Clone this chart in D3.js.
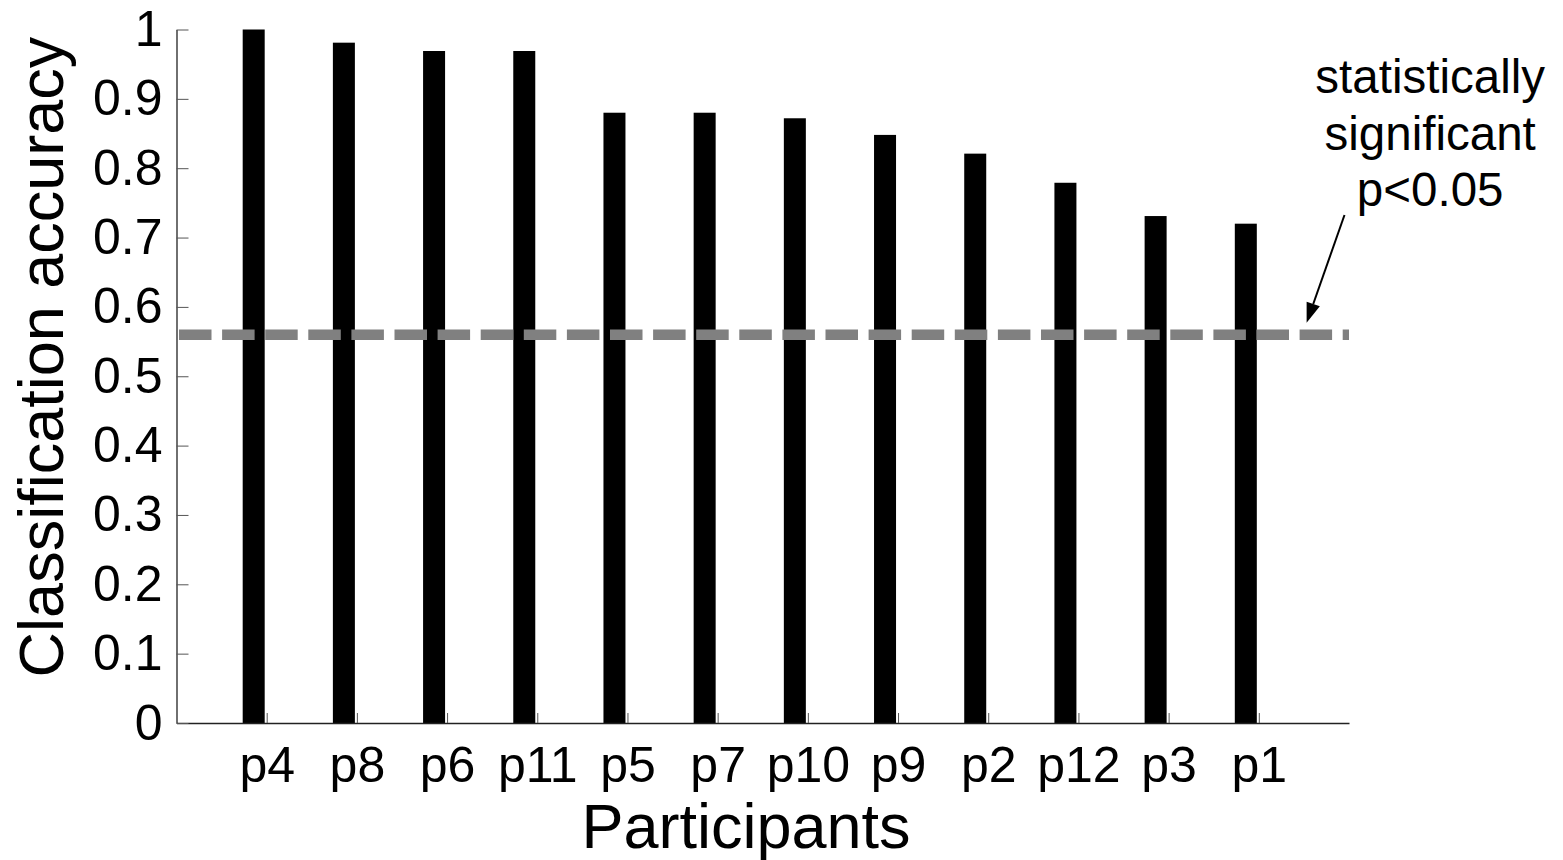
<!DOCTYPE html>
<html>
<head>
<meta charset="utf-8">
<script src="https://cdn.jsdelivr.net/npm/d3@7"></script>
<style>
  html, body { margin: 0; padding: 0; background: #fff; }
  svg { display: block; font-family: "Liberation Sans", Arial, sans-serif; }
</style>
</head>
<body>
<svg id="chart" width="1563" height="860"></svg>
<script>
// ---- data ----
const participants = ["p4", "p8", "p6", "p11", "p5", "p7", "p10", "p9", "p2", "p12", "p3", "p1"];
const accuracy = [1.0, 0.981, 0.969, 0.969, 0.880, 0.880, 0.872, 0.848, 0.821, 0.779, 0.731, 0.720];
const yTickValues = [0, 0.1, 0.2, 0.3, 0.4, 0.5, 0.6, 0.7, 0.8, 0.9, 1];
const yTickLabels = ["0", "0.1", "0.2", "0.3", "0.4", "0.5", "0.6", "0.7", "0.8", "0.9", "1"];
const threshold = [0.56];
const annotationLines = ["statistically", "significant", "p<0.05"];
const xTitle = "Participants";
const yTitle = "Classification accuracy";

// ---- layout ----
const svg = d3.select("#chart");
const plotLeft = 176.5, plotRight = 1349, plotTop = 29.5, plotBottom = 723;

const x = d3.scaleLinear().domain([0, participants.length + 1]).range([plotLeft, plotRight]);
const y = d3.scaleLinear().domain([0, 1]).range([plotBottom, plotTop]);

const barW = 22;
const barOffset = -24; // bar left edge relative to tick

// bars
svg.append("g").selectAll("rect")
  .data(accuracy)
  .join("rect")
  .attr("x", (d, i) => x(i + 1) + barOffset)
  .attr("y", d => y(d))
  .attr("width", barW)
  .attr("height", d => y(0) - y(d))
  .attr("fill", "#000");

// axes
const yAxis = d3.axisLeft(y)
  .tickValues(yTickValues)
  .tickFormat((d, i) => yTickLabels[i])
  .tickSize(-12)
  .tickSizeOuter(0)
  .tickPadding(14);

const xAxis = d3.axisBottom(x)
  .tickValues(participants.map((p, i) => i + 1))
  .tickFormat((d, i) => participants[i])
  .tickSize(-10)
  .tickSizeOuter(0)
  .tickPadding(23.5);

const gx = svg.append("g").attr("transform", `translate(0,${plotBottom})`).call(xAxis);
const gy = svg.append("g").attr("transform", `translate(${plotLeft},0)`).call(yAxis);

[gx, gy].forEach(g => {
  g.select(".domain").attr("stroke", "#222").attr("stroke-width", 1.3);
  g.selectAll(".tick line").attr("stroke", "#555").attr("stroke-width", 1);
  g.selectAll(".tick text")
    .attr("fill", "#000")
    .style("font-family", "'Liberation Sans', Arial, sans-serif")
    .style("font-size", "50px");
});

// threshold dashed line (drawn over bars)
svg.append("g").selectAll("line")
  .data(threshold)
  .join("line")
  .attr("x1", x(0) + 2.5)
  .attr("x2", plotRight)
  .attr("y1", d => y(d))
  .attr("y2", d => y(d))
  .attr("stroke", "#808080")
  .attr("stroke-width", 10.5)
  .attr("stroke-dasharray", "32.5,10.6");

// axis titles
svg.append("text")
  .attr("x", 746)
  .attr("y", 848)
  .attr("text-anchor", "middle")
  .style("font-size", "63px")
  .attr("fill", "#000")
  .text(xTitle);

svg.append("text")
  .attr("transform", `translate(63,357) rotate(-90)`)
  .attr("text-anchor", "middle")
  .style("font-size", "63px")
  .attr("fill", "#000")
  .text(yTitle);

// annotation
const annX = x(13.9);
const annBaselines = [0.909, 0.826, 0.745];
svg.append("g").selectAll("text")
  .data(annotationLines)
  .join("text")
  .attr("x", annX)
  .attr("y", (d, i) => y(annBaselines[i]))
  .attr("text-anchor", "middle")
  .style("font-size", "47.5px")
  .attr("fill", "#000")
  .text(d => d);

// arrow
const ax0 = x(12.95), ay0 = y(0.7325);
const ax1 = x(12.53), ay1 = y(0.577);
const ang = Math.atan2(ay1 - ay0, ax1 - ax0);
const headLen = 20, headHalf = 7;
const bx = ax1 - headLen * Math.cos(ang), by = ay1 - headLen * Math.sin(ang);
svg.append("line")
  .attr("x1", ax0).attr("y1", ay0)
  .attr("x2", bx).attr("y2", by)
  .attr("stroke", "#000").attr("stroke-width", 2);
svg.append("path")
  .attr("d", `M${ax1},${ay1} L${bx + headHalf * Math.sin(ang)},${by - headHalf * Math.cos(ang)} L${bx - headHalf * Math.sin(ang)},${by + headHalf * Math.cos(ang)} Z`)
  .attr("fill", "#000");
</script>
</body>
</html>
